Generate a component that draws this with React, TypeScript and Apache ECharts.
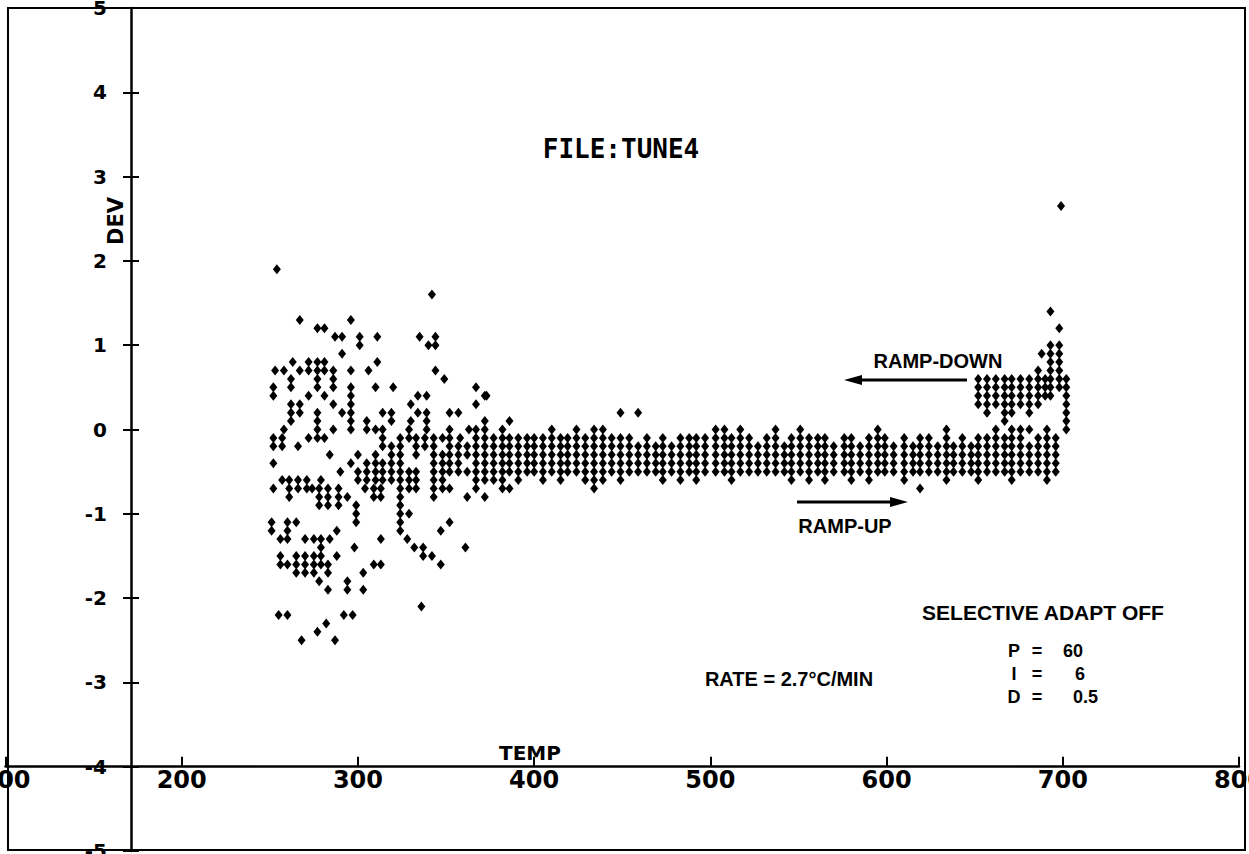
import React, { useEffect, useRef } from "react";
import * as echarts from "echarts";

// Axis ranges (TEMP on x, DEV on y)
const X_MIN = 100;
const X_MAX = 800;
const X_STEP = 100;
const Y_MIN = -5;
const Y_MAX = 5;
const Y_STEP = 1;

// Start-up scatter, grouped by DEV row: [dev, temps[]]
const startupRows: [number, number[]][] = [
  [1.9, [254]],
  [1.6, [342]],
  [1.3, [267, 296]],
  [1.2, [277, 281]],
  [1.1, [287, 291, 301, 311, 335, 344]],
  [1.0, [301, 340, 344]],
  [0.9, [291]],
  [0.8, [263, 272, 277, 281, 311]],
  [0.7, [253, 258, 267, 272, 277, 281, 286, 296, 306, 344]],
  [0.6, [262, 277, 286, 349]],
  [0.5, [252, 262, 277, 286, 296, 310, 320, 367]],
  [0.4, [252, 272, 281, 296, 334, 339, 373]],
  [0.3, [262, 267, 286, 296, 330, 367]],
  [0.2, [262, 267, 277, 291, 296, 314, 319, 334, 339, 352, 357]],
  [0.1, [262, 277, 296, 305, 319, 330, 339]],
  [0.0, [258, 277, 286, 296, 305, 310, 314, 329, 339, 352, 363, 367]],
  [-0.1, [252, 257, 272, 277, 281, 314, 324, 329, 333, 338, 343, 348, 352, 358, 367]],
  [-0.2, [252, 257, 266, 314, 319, 324, 333, 338, 343, 352, 357, 362, 367]],
  [-0.3, [284, 300, 310, 319, 324, 333, 343, 348, 352, 357, 362, 367]],
  [-0.4, [252, 296, 305, 310, 314, 319, 324, 343, 348, 352, 357, 367]],
  [-0.5, [290, 300, 305, 310, 314, 319, 324, 329, 333, 343, 348, 352, 357, 362, 367]],
  [-0.6, [257, 261, 266, 271, 279, 300, 305, 310, 314, 319, 324, 329, 333, 343, 348, 367]],
  [-0.7, [252, 261, 266, 271, 274, 278, 283, 289, 304, 309, 313, 324, 329, 333, 343, 348, 352, 367]],
  [-0.8, [261, 278, 283, 289, 294, 309, 313, 324, 343, 362]],
  [-0.9, [278, 283, 289, 299, 324]],
  [-1.0, [299, 324, 329]],
  [-1.1, [251, 260, 265, 299, 324, 352]],
  [-1.2, [251, 260, 288, 324, 347]],
  [-1.3, [256, 260, 270, 275, 279, 284, 313, 328]],
  [-1.4, [279, 298, 332, 337, 361]],
  [-1.5, [256, 265, 270, 275, 279, 288, 337, 342]],
  [-1.6, [256, 260, 265, 270, 275, 279, 283, 309, 313, 347]],
  [-1.7, [265, 270, 275, 283, 303]],
  [-1.8, [278, 294]],
  [-1.9, [283, 294, 303]],
  [-2.1, [336]],
  [-2.2, [255, 260, 292, 297]],
  [-2.3, [282]],
  [-2.4, [277]],
  [-2.5, [268, 287]],
];

// Ramp-up band, grouped by TEMP column: [temp, devs[]]
const rampUpCols: [number, number[]][] = [
  [372, [0.4, 0.1, 0, -0.1, -0.2, -0.3, -0.4, -0.5, -0.6, -0.8]],
  [377, [-0.1, -0.2, -0.3, -0.4, -0.5, -0.6]],
  [382, [0, -0.1, -0.2, -0.3, -0.4, -0.5, -0.6, -0.7]],
  [386, [0.1, -0.1, -0.2, -0.3, -0.4, -0.5, -0.7]],
  [391, [-0.1, -0.2, -0.3, -0.4, -0.5, -0.6]],
  [396, [-0.1, -0.2, -0.3, -0.4, -0.5]],
  [400, [-0.1, -0.2, -0.3, -0.4, -0.5]],
  [405, [-0.1, -0.2, -0.3, -0.4, -0.5, -0.6]],
  [410, [0, -0.1, -0.2, -0.3, -0.4, -0.5]],
  [415, [-0.1, -0.2, -0.3, -0.4, -0.5, -0.6]],
  [419, [-0.1, -0.2, -0.3, -0.4, -0.5]],
  [424, [0, -0.1, -0.2, -0.3, -0.4, -0.5]],
  [429, [-0.1, -0.2, -0.3, -0.4, -0.5, -0.6]],
  [434, [0, -0.1, -0.2, -0.3, -0.4, -0.5, -0.6, -0.7]],
  [439, [0, -0.1, -0.2, -0.3, -0.4, -0.5, -0.6]],
  [444, [-0.1, -0.2, -0.3, -0.4, -0.5]],
  [449, [0.2, -0.1, -0.2, -0.3, -0.4, -0.5, -0.6]],
  [454, [-0.1, -0.2, -0.3, -0.4, -0.5]],
  [459, [0.2, -0.2, -0.3, -0.4, -0.5]],
  [464, [-0.1, -0.2, -0.3, -0.4, -0.5]],
  [469, [-0.2, -0.3, -0.4, -0.5]],
  [473, [-0.1, -0.2, -0.3, -0.4, -0.5, -0.6]],
  [478, [-0.2, -0.3, -0.4, -0.5]],
  [483, [-0.1, -0.2, -0.3, -0.4, -0.5, -0.6]],
  [488, [-0.1, -0.2, -0.3, -0.4, -0.5]],
  [492, [-0.1, -0.2, -0.3, -0.4, -0.5, -0.6]],
  [497, [-0.1, -0.2, -0.3, -0.4, -0.5]],
  [503, [0, -0.1, -0.2, -0.3, -0.4, -0.5]],
  [508, [0, -0.1, -0.2, -0.3, -0.4, -0.5]],
  [512, [-0.1, -0.2, -0.3, -0.4, -0.5, -0.6]],
  [517, [0, -0.1, -0.2, -0.3, -0.4, -0.5]],
  [522, [-0.1, -0.2, -0.3, -0.4, -0.5]],
  [527, [-0.2, -0.3, -0.4, -0.5]],
  [532, [-0.1, -0.2, -0.3, -0.4, -0.5]],
  [537, [0, -0.1, -0.2, -0.3, -0.4, -0.5]],
  [542, [-0.2, -0.3, -0.4, -0.5]],
  [546, [-0.1, -0.2, -0.3, -0.4, -0.5, -0.6]],
  [551, [0, -0.1, -0.2, -0.3, -0.4, -0.5]],
  [556, [-0.1, -0.2, -0.3, -0.4, -0.5, -0.6]],
  [561, [-0.1, -0.2, -0.3, -0.4, -0.5]],
  [565, [-0.1, -0.2, -0.3, -0.4, -0.5, -0.6]],
  [570, [-0.2, -0.3, -0.4, -0.5]],
  [576, [-0.1, -0.2, -0.3, -0.4, -0.5]],
  [580, [-0.1, -0.2, -0.3, -0.4, -0.5, -0.6]],
  [585, [-0.2, -0.3, -0.4, -0.5]],
  [590, [-0.1, -0.2, -0.3, -0.4, -0.5, -0.6]],
  [595, [0, -0.1, -0.2, -0.3, -0.4, -0.5]],
  [599, [-0.1, -0.2, -0.3, -0.4, -0.5]],
  [604, [-0.2, -0.3, -0.4, -0.5]],
  [610, [-0.1, -0.2, -0.3, -0.4, -0.5, -0.6]],
  [615, [-0.2, -0.3, -0.4, -0.5]],
  [619, [-0.1, -0.2, -0.3, -0.4, -0.5, -0.7]],
  [624, [-0.1, -0.2, -0.3, -0.4, -0.5]],
  [629, [-0.2, -0.3, -0.4, -0.5]],
  [634, [0, -0.1, -0.2, -0.3, -0.4, -0.5, -0.6]],
  [638, [-0.2, -0.3, -0.4, -0.5]],
  [643, [-0.1, -0.2, -0.3, -0.4, -0.5]],
  [648, [-0.2, -0.3, -0.4, -0.5]],
  [652, [-0.1, -0.2, -0.3, -0.4, -0.5, -0.6]],
  [657, [-0.1, -0.2, -0.3, -0.4, -0.5]],
  [662, [0, -0.1, -0.2, -0.3, -0.4, -0.5]],
  [667, [0.1, -0.1, -0.2, -0.3, -0.4, -0.5]],
  [671, [0, -0.1, -0.2, -0.3, -0.4, -0.5, -0.6]],
  [676, [0, -0.1, -0.2, -0.3, -0.4, -0.5]],
  [681, [0, -0.2, -0.3, -0.4, -0.5]],
  [686, [-0.1, -0.2, -0.3, -0.4, -0.5]],
  [691, [0, -0.1, -0.2, -0.3, -0.4, -0.5, -0.6]],
  [696, [-0.1, -0.2, -0.3, -0.4, -0.5]],
];

// Ramp-down block, grouped by TEMP column: [temp, devs[]]
const rampDownCols: [number, number[]][] = [
  [652, [0.6, 0.5, 0.4, 0.3]],
  [657, [0.6, 0.5, 0.4, 0.3, 0.2]],
  [662, [0.6, 0.5, 0.4, 0.3]],
  [667, [0.6, 0.5, 0.4, 0.3, 0.2]],
  [671, [0.6, 0.5, 0.4, 0.3, 0.2]],
  [676, [0.6, 0.5, 0.4, 0.3]],
  [681, [0.6, 0.5, 0.4, 0.3, 0.2]],
  [686, [0.7, 0.6, 0.5, 0.4, 0.3]],
  [688, [0.9]],
  [690, [0.6, 0.5, 0.4]],
  [693, [1.4, 1.0, 0.9, 0.8, 0.7, 0.6, 0.5, 0.4]],
  [698, [1.2, 1.0, 0.9, 0.8, 0.7, 0.6, 0.5]],
  [699, [2.65]],
  [702, [0.6, 0.5, 0.4, 0.3, 0.2, 0.1, 0.0]],
];

// Annotation texts
const TITLE = "FILE:TUNE4";
const X_NAME = "TEMP";
const Y_NAME = "DEV";
const RAMP_DOWN = "RAMP-DOWN";
const RAMP_UP = "RAMP-UP";
const RATE = "RATE = 2.7°C/MIN";
const ADAPT = "SELECTIVE ADAPT OFF";
const PID_NAMES = ["P", "I", "D"];
const PID_VALUES = ["60", "6", "0.5"];

const LABEL_FONT = "'DejaVu Sans', sans-serif";
const NOTE_FONT = "'Liberation Sans', Arial, sans-serif";

export default function App() {
  const ref = useRef<HTMLDivElement>(null);

  useEffect(() => {
    document.body.style.margin = "0";
    if (!ref.current) return;
    const chart = echarts.init(ref.current, undefined, { renderer: "svg" });

    const points: [number, number][] = [];
    startupRows.forEach(([dev, temps]) => temps.forEach((t) => points.push([t, dev])));
    rampUpCols.forEach(([t, devs]) => devs.forEach((d) => points.push([t, d])));
    rampDownCols.forEach(([t, devs]) => devs.forEach((d) => points.push([t, d])));

    const pidRows = [651, 674, 697];

    const txt = (
      text: string,
      x: number,
      y: number,
      font: string,
      size: number,
      weight: string,
      align = "center",
      extra: any = {}
    ) => ({
      type: "text",
      x,
      y,
      ...extra,
      style: {
        text,
        fontFamily: font,
        fontWeight: weight,
        fontSize: size,
        fill: "#000",
        align,
        verticalAlign: "middle",
      },
    });

    const graphics: any[] = [
      {
        type: "rect",
        shape: { x: 8, y: 8, width: 1237, height: 842 },
        style: { fill: "none", stroke: "#000", lineWidth: 2 },
        z: 10,
      },
      txt(TITLE, 621, 149, "'DejaVu Sans Mono', monospace", 26, "bold"),
      txt(Y_NAME, 116, 221, LABEL_FONT, 21, "bold", "center", { rotation: Math.PI / 2 }),
      txt(X_NAME, 530, 753, LABEL_FONT, 20, "bold"),
      txt(RAMP_DOWN, 938, 361, NOTE_FONT, 20, "bold"),
      {
        type: "line",
        shape: { x1: 967, y1: 380, x2: 856, y2: 380 },
        style: { stroke: "#000", lineWidth: 3 },
      },
      {
        type: "polygon",
        shape: { points: [[844, 380], [862, 375], [862, 385]] },
        style: { fill: "#000" },
      },
      {
        type: "line",
        shape: { x1: 797, y1: 502, x2: 896, y2: 502 },
        style: { stroke: "#000", lineWidth: 3 },
      },
      {
        type: "polygon",
        shape: { points: [[908, 502], [890, 497], [890, 507]] },
        style: { fill: "#000" },
      },
      txt(RAMP_UP, 845, 526, NOTE_FONT, 20, "bold"),
      txt(RATE, 789, 679, NOTE_FONT, 20, "bold"),
      txt(ADAPT, 1043, 612, NOTE_FONT, 21, "bold"),
    ];

    const valueX = [1063, 1075, 1073];
    PID_NAMES.forEach((n, i) => {
      graphics.push(txt(n, 1014, pidRows[i], NOTE_FONT, 18, "bold"));
      graphics.push(txt("=", 1037, pidRows[i], NOTE_FONT, 18, "bold"));
      graphics.push(txt(PID_VALUES[i], valueX[i], pidRows[i], NOTE_FONT, 18, "bold", "left"));
    });

    chart.setOption({
      animation: false,
      backgroundColor: "#fff",
      grid: {
        left: 5.5,
        right: 10,
        top: 8,
        bottom: 3,
        containLabel: false,
        outerBoundsMode: "none",
      },
      xAxis: {
        type: "value",
        min: X_MIN,
        max: X_MAX,
        interval: X_STEP,
        position: "bottom",
        offset: -84.3,
        splitLine: { show: false },
        axisLine: { onZero: false, lineStyle: { color: "#000", width: 2.5 } },
        axisTick: { inside: true, length: 10, lineStyle: { color: "#000", width: 2 } },
        axisLabel: {
          color: "#000",
          fontFamily: LABEL_FONT,
          fontWeight: "bold",
          fontSize: 24,
          margin: 1,
          showMinLabel: true,
          showMaxLabel: true,
          hideOverlap: false,
        },
      },
      yAxis: [
        {
          type: "value",
          min: Y_MIN,
          max: Y_MAX,
          interval: Y_STEP,
          position: "left",
          offset: -125.5,
          splitLine: { show: false },
          axisLine: { onZero: false, lineStyle: { color: "#000", width: 2.5 } },
          axisTick: { inside: false, length: 8, lineStyle: { color: "#000", width: 2 } },
          axisLabel: {
            color: "#000",
            fontFamily: LABEL_FONT,
            fontWeight: "bold",
            fontSize: 20,
            margin: 24,
            showMinLabel: true,
            showMaxLabel: true,
          },
        },
        {
          type: "value",
          min: Y_MIN,
          max: Y_MAX,
          interval: Y_STEP,
          position: "left",
          offset: -125.5,
          splitLine: { show: false },
          axisLine: { show: false, onZero: false },
          axisTick: { inside: true, length: 8, lineStyle: { color: "#000", width: 2 } },
          axisLabel: { show: false },
        },
      ],
      graphic: graphics,
      series: [
        {
          type: "scatter",
          data: points,
          symbol: "diamond",
          symbolSize: [8, 10],
          itemStyle: { color: "#000", opacity: 1 },
          silent: true,
        },
      ],
    });

    return () => chart.dispose();
  }, []);

  return <div ref={ref} style={{ width: 1249, height: 854 }} />;
}
